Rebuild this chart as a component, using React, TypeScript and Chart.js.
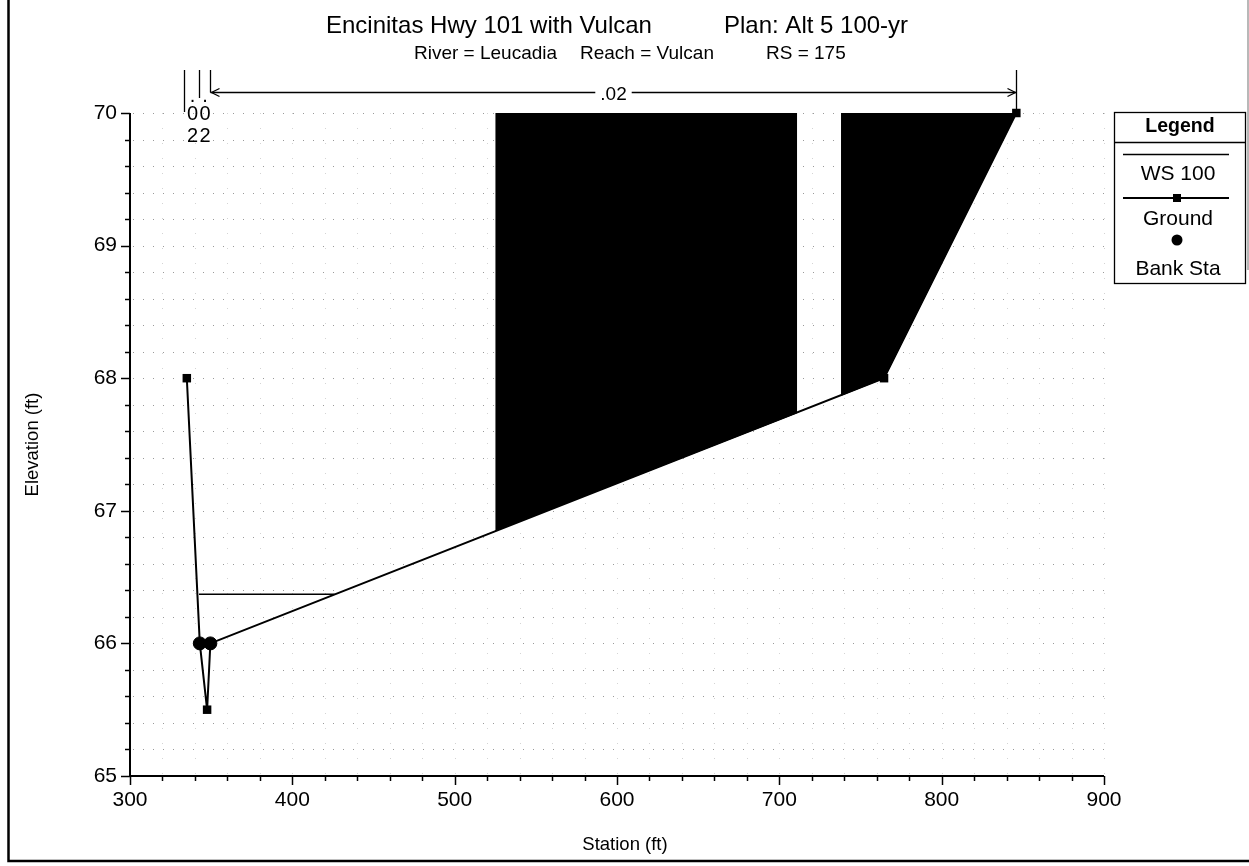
import React, { useEffect, useRef } from 'react';
import { Chart, registerables } from 'chart.js';

Chart.register(...registerables);

// ---- text ----
const titleMain = 'Encinitas Hwy 101 with Vulcan';
const titlePlan = 'Plan: Alt 5 100-yr';
const subRiver = 'River = Leucadia';
const subReach = 'Reach = Vulcan';
const subRS = 'RS = 175';
const xTitle = 'Station (ft)';
const yTitle = 'Elevation (ft)';
const legendTitle = 'Legend';
const legendLabels = ['WS 100', 'Ground', 'Bank Sta'];

// ---- data ----
const groundStation = [335, 343, 347.5, 349.5, 764.5, 846];
const groundElev = [68, 66, 65.5, 66, 68, 70];
const bankStation = [343, 349.5];
const bankElev = [66, 66];
const wsStation = [342.5, 426];
const wsElev = [66.37, 66.37];
const block1Station = [525, 711];
const block1Elev = [66.85, 67.74];
const block2Station = [738, 764.5, 846];
const block2Elev = [67.87, 68, 70];
const nBreakStations = [333.5, 342.5, 349, 846];
const nValues = ['.02', '.02', '.02'];

// ---- axes ----
const xMin = 300;
const xMax = 900;
const xMajorStep = 100;
const xMinorStep = 20;
const yMin = 65;
const yMax = 70;
const yMajorStep = 1;
const yMinorStep = 0.2;

const FONT = "'Liberation Sans', Arial, Helvetica, sans-serif";

const toXY = (xs: number[], ys: number[]) => xs.map((x, i) => ({ x, y: ys[i] }));

const decorPlugin = {
  id: 'decor',
  beforeDatasetsDraw(chart: any) {
    const { ctx, chartArea, scales } = chart;
    const { left, right, top, bottom } = chartArea;
    const xs = scales.x;
    const ys = scales.y;
    ctx.save();
    ctx.lineWidth = 1;
    ctx.strokeStyle = '#9a9a9a';
    ctx.setLineDash([1, 9]);
    const nY = Math.round((yMax - yMin) / yMinorStep);
    for (let i = 0; i <= nY; i++) {
      const v = yMin + i * yMinorStep;
      const py = Math.round(ys.getPixelForValue(v)) + 0.5;
      if (py >= bottom - 1) continue;
      ctx.beginPath();
      ctx.moveTo(left + 3, py);
      ctx.lineTo(right, py);
      ctx.stroke();
    }
    ctx.strokeStyle = '#d4d4d4';
    ctx.setLineDash([1, 14]);
    const nX = Math.round((xMax - xMin) / xMinorStep);
    for (let i = 1; i <= nX; i++) {
      const v = xMin + i * xMinorStep;
      const px = Math.round(xs.getPixelForValue(v)) + 0.5;
      ctx.beginPath();
      ctx.moveTo(px, top);
      ctx.lineTo(px, bottom - 2);
      ctx.stroke();
    }
    ctx.restore();
  },
  afterDraw(chart: any) {
    const { ctx, chartArea, scales } = chart;
    const { left, right, top, bottom } = chartArea;
    const xs = scales.x;
    const ys = scales.y;
    ctx.save();
    ctx.setLineDash([]);
    ctx.strokeStyle = '#000';
    ctx.fillStyle = '#000';

    // frame
    ctx.lineWidth = 2.5;
    ctx.beginPath();
    ctx.moveTo(8.5, 0);
    ctx.lineTo(8.5, 861);
    ctx.lineTo(1249, 861);
    ctx.stroke();
    ctx.strokeStyle = '#a0a0a0';
    ctx.lineWidth = 1.5;
    ctx.beginPath();
    ctx.moveTo(1248, 0);
    ctx.lineTo(1248, 270);
    ctx.stroke();
    ctx.strokeStyle = '#000';

    // axis lines
    ctx.lineWidth = 2;
    ctx.beginPath();
    ctx.moveTo(left, top);
    ctx.lineTo(left, bottom);
    ctx.lineTo(right, bottom);
    ctx.stroke();

    // ticks
    ctx.lineWidth = 1.5;
    const nX = Math.round((xMax - xMin) / xMinorStep);
    for (let i = 0; i <= nX; i++) {
      const v = xMin + i * xMinorStep;
      const px = Math.round(xs.getPixelForValue(v)) + 0.5;
      const major = Math.abs((v - xMin) % xMajorStep) < 1e-6;
      ctx.beginPath();
      ctx.moveTo(px, bottom);
      ctx.lineTo(px, bottom + (major ? 9 : 5));
      ctx.stroke();
    }
    const nY = Math.round((yMax - yMin) / yMinorStep);
    for (let i = 0; i <= nY; i++) {
      const v = yMin + i * yMinorStep;
      const py = Math.round(ys.getPixelForValue(v)) + 0.5;
      const major = i % Math.round(yMajorStep / yMinorStep) === 0;
      ctx.beginPath();
      ctx.moveTo(left, py);
      ctx.lineTo(left - (major ? 9 : 5), py);
      ctx.stroke();
    }

    // titles
    ctx.textBaseline = 'alphabetic';
    ctx.textAlign = 'left';
    ctx.font = `24px ${FONT}`;
    ctx.fillText(titleMain, 326, 33);
    ctx.fillText(titlePlan, 724, 33);
    ctx.font = `19px ${FONT}`;
    ctx.fillText(subRiver, 414, 59);
    ctx.fillText(subReach, 580, 59);
    ctx.fillText(subRS, 766, 59);

    // axis titles
    ctx.font = `18.5px ${FONT}`;
    ctx.textAlign = 'center';
    ctx.textBaseline = 'middle';
    ctx.fillText(xTitle, (left + right) / 2 + 8, 845);
    ctx.save();
    ctx.translate(33, (top + bottom) / 2);
    ctx.rotate(-Math.PI / 2);
    ctx.fillText(yTitle, 0, 0);
    ctx.restore();

    // Manning's n annotations
    const bx = nBreakStations.map((s) => Math.round(xs.getPixelForValue(s)) + 0.5);
    const arrowY = 92.5;
    ctx.lineWidth = 1.3;
    const vEnds = [112, 98, arrowY, 113];
    bx.forEach((px, i) => {
      ctx.beginPath();
      ctx.moveTo(px, 70);
      ctx.lineTo(px, vEnds[i]);
      ctx.stroke();
    });
    const a0 = bx[2];
    const a1 = bx[3];
    const mid = (a0 + a1) / 2;
    ctx.font = `19px ${FONT}`;
    const lblW = ctx.measureText(nValues[2]).width + 10;
    ctx.beginPath();
    ctx.moveTo(a0, arrowY);
    ctx.lineTo(mid - lblW / 2, arrowY);
    ctx.moveTo(mid + lblW / 2, arrowY);
    ctx.lineTo(a1, arrowY);
    ctx.stroke();
    ctx.beginPath();
    ctx.moveTo(a0 + 9, arrowY - 4);
    ctx.lineTo(a0 + 1, arrowY);
    ctx.lineTo(a0 + 9, arrowY + 4);
    ctx.moveTo(a1 - 9, arrowY - 4);
    ctx.lineTo(a1 - 1, arrowY);
    ctx.lineTo(a1 - 9, arrowY + 4);
    ctx.stroke();
    ctx.textAlign = 'center';
    ctx.textBaseline = 'middle';
    ctx.fillText(nValues[2], mid, arrowY + 2);
    ctx.font = `20px ${FONT}`;
    for (let i = 0; i < 2; i++) {
      const cx = (bx[i] + bx[i + 1]) / 2 + (i === 0 ? 0.5 : 0);
      const chars = nValues[i].split('');
      const ys2 = [96, 114, 136];
      chars.forEach((c, k) => ctx.fillText(c, cx, ys2[k]));
    }

    // legend
    const lx = 1114.5;
    const ly = 112.5;
    const lw = 131;
    const lh = 171;
    ctx.fillStyle = '#fff';
    ctx.fillRect(lx, ly, lw, lh);
    ctx.fillStyle = '#000';
    ctx.lineWidth = 1.3;
    ctx.strokeRect(lx, ly, lw, lh);
    ctx.beginPath();
    ctx.moveTo(lx, 142.5);
    ctx.lineTo(lx + lw, 142.5);
    ctx.stroke();
    const lcx = lx + lw / 2;
    ctx.textAlign = 'center';
    ctx.textBaseline = 'alphabetic';
    ctx.font = `bold 19.5px ${FONT}`;
    ctx.fillText(legendTitle, lcx, 132);
    ctx.font = `21px ${FONT}`;
    ctx.lineWidth = 1.5;
    ctx.beginPath();
    ctx.moveTo(1123, 154.5);
    ctx.lineTo(1229, 154.5);
    ctx.stroke();
    ctx.fillText(legendLabels[0], lcx - 2, 180);
    ctx.lineWidth = 2;
    ctx.beginPath();
    ctx.moveTo(1123, 198);
    ctx.lineTo(1229, 198);
    ctx.stroke();
    ctx.fillRect(1173, 194, 8, 8);
    ctx.fillText(legendLabels[1], lcx - 2, 225);
    ctx.beginPath();
    ctx.arc(1177, 240, 5.5, 0, Math.PI * 2);
    ctx.fill();
    ctx.fillText(legendLabels[2], lcx - 2, 275);

    ctx.restore();
  },
};

export default function App() {
  const canvasRef = useRef<HTMLCanvasElement | null>(null);

  useEffect(() => {
    document.body.style.margin = '0';
    const canvas = canvasRef.current;
    if (!canvas) return;
    const chart = new Chart(canvas, {
      type: 'line',
      data: {
        datasets: [
          {
            label: 'Bank Sta',
            data: toXY(bankStation, bankElev),
            showLine: false,
            pointStyle: 'circle',
            pointRadius: 6.5,
            pointBackgroundColor: '#000',
            pointBorderColor: '#000',
            borderColor: '#000',
            clip: false,
          },
          {
            label: 'Ground',
            data: toXY(groundStation, groundElev),
            borderColor: '#000',
            borderWidth: 2,
            pointStyle: 'rect',
            pointRadius: 6,
            pointBackgroundColor: '#000',
            pointBorderColor: '#000',
            pointBorderWidth: 0,
            fill: false,
            clip: false,
          },
          {
            label: 'WS 100',
            data: toXY(wsStation, wsElev),
            borderColor: '#000',
            borderWidth: 1.5,
            pointRadius: 0,
            fill: false,
          },
          {
            label: 'Block 1',
            data: toXY(block1Station, block1Elev),
            borderColor: '#000',
            borderWidth: 1,
            backgroundColor: '#000',
            pointRadius: 0,
            fill: 'end',
          },
          {
            label: 'Block 2',
            data: toXY(block2Station, block2Elev),
            borderColor: '#000',
            borderWidth: 1,
            backgroundColor: '#000',
            pointRadius: 0,
            fill: 'end',
          },
        ],
      },
      options: {
        animation: false,
        responsive: false,
        devicePixelRatio: 1,
        layout: { padding: { top: 113, right: 145, left: 0, bottom: 0 } },
        plugins: {
          legend: { display: false },
          title: { display: false },
          tooltip: { enabled: false },
        },
        elements: { line: { tension: 0 } },
        scales: {
          x: {
            type: 'linear',
            min: xMin,
            max: xMax,
            grid: { display: false, drawTicks: false },
            border: { display: false },
            ticks: {
              stepSize: xMajorStep,
              padding: 12,
              color: '#000',
              font: { family: FONT, size: 21 },
              maxRotation: 0,
            },
            afterFit: (s: any) => {
              s.height = 90;
            },
          },
          y: {
            type: 'linear',
            min: yMin,
            max: yMax,
            grid: { display: false, drawTicks: false },
            border: { display: false },
            ticks: {
              stepSize: yMajorStep,
              padding: 13,
              color: '#000',
              font: { family: FONT, size: 21 },
            },
            afterFit: (s: any) => {
              s.width = 130;
            },
          },
        },
      },
      plugins: [decorPlugin],
    });
    return () => chart.destroy();
  }, []);

  return (
    <div style={{ width: 1249, height: 866, background: '#fff' }}>
      <canvas ref={canvasRef} width={1249} height={866} style={{ display: 'block' }} />
    </div>
  );
}
